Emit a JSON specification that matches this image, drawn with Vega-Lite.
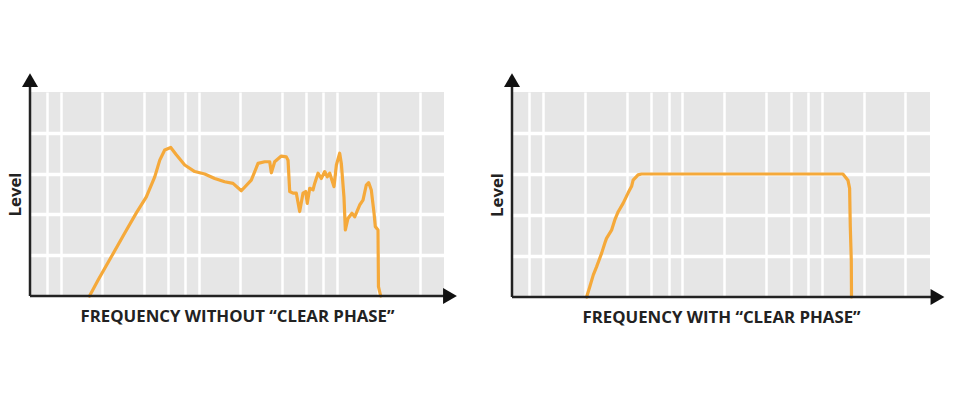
{
  "$schema": "https://vega.github.io/schema/vega-lite/v6.json",
  "background": "white",
  "padding": {"left": 7, "top": 73, "right": 0, "bottom": 0},
  "spacing": 32,
  "config": {
    "view": {"fill": "#e6e6e6", "stroke": null},
    "font": "Open Sans",
    "axis": {
      "titleFont": "Open Sans",
      "titleFontWeight": "bold",
      "titleFontSize": 16.8,
      "titleColor": "#222222",
      "labels": false,
      "ticks": false,
      "domain": false,
      "gridColor": "white",
      "gridOpacity": 1
    }
  },
  "datasets": {
    "without": [
      {"f": 162, "level": 0},
      {"f": 187, "level": 0.39},
      {"f": 233, "level": 0.96},
      {"f": 291, "level": 1.54},
      {"f": 353, "level": 2.03},
      {"f": 418, "level": 2.43},
      {"f": 481, "level": 2.92},
      {"f": 523, "level": 3.33},
      {"f": 568, "level": 3.58},
      {"f": 628, "level": 3.64},
      {"f": 689, "level": 3.46},
      {"f": 793, "level": 3.21},
      {"f": 937, "level": 3.05},
      {"f": 1107, "level": 2.99},
      {"f": 1308, "level": 2.88},
      {"f": 1545, "level": 2.8},
      {"f": 1775, "level": 2.76},
      {"f": 2039, "level": 2.58},
      {"f": 2408, "level": 2.84},
      {"f": 2695, "level": 3.25},
      {"f": 3012, "level": 3.29},
      {"f": 3274, "level": 3.29},
      {"f": 3366, "level": 3.02},
      {"f": 3558, "level": 3.29},
      {"f": 3973, "level": 3.43},
      {"f": 4320, "level": 3.41},
      {"f": 4446, "level": 3.33},
      {"f": 4572, "level": 2.56},
      {"f": 4830, "level": 2.52},
      {"f": 5106, "level": 2.52},
      {"f": 5400, "level": 2.07},
      {"f": 5706, "level": 2.52},
      {"f": 5970, "level": 2.56},
      {"f": 6126, "level": 2.27},
      {"f": 6384, "level": 2.64},
      {"f": 6744, "level": 2.6},
      {"f": 6936, "level": 2.76},
      {"f": 7332, "level": 3.01},
      {"f": 7746, "level": 2.88},
      {"f": 8202, "level": 3.05},
      {"f": 8556, "level": 2.92},
      {"f": 8916, "level": 3.01},
      {"f": 9576, "level": 2.68},
      {"f": 9960, "level": 3.21},
      {"f": 10524, "level": 3.5},
      {"f": 10818, "level": 3.25},
      {"f": 11304, "level": 2.43},
      {"f": 11568, "level": 1.62},
      {"f": 12084, "level": 1.9},
      {"f": 12918, "level": 2.03},
      {"f": 13524, "level": 1.94},
      {"f": 14694, "level": 2.23},
      {"f": 15528, "level": 2.35},
      {"f": 16410, "level": 2.72},
      {"f": 17064, "level": 2.78},
      {"f": 17832, "level": 2.6},
      {"f": 18672, "level": 2.03},
      {"f": 19074, "level": 1.7},
      {"f": 19956, "level": 1.62},
      {"f": 20100, "level": 0.23},
      {"f": 20850, "level": 0}
    ],
    "with": [
      {"f": 206, "level": 0},
      {"f": 217, "level": 0.25},
      {"f": 230, "level": 0.54},
      {"f": 243, "level": 0.74},
      {"f": 264, "level": 1.07},
      {"f": 278, "level": 1.31},
      {"f": 286, "level": 1.43},
      {"f": 311, "level": 1.63},
      {"f": 328, "level": 1.88},
      {"f": 347, "level": 2.08},
      {"f": 377, "level": 2.29},
      {"f": 409, "level": 2.54},
      {"f": 433, "level": 2.7},
      {"f": 444, "level": 2.85},
      {"f": 482, "level": 2.98},
      {"f": 510, "level": 3},
      {"f": 14224, "level": 3},
      {"f": 15456, "level": 2.85},
      {"f": 15894, "level": 2.65},
      {"f": 16074, "level": 1.71},
      {"f": 16338, "level": 0.9},
      {"f": 16400, "level": 0}
    ],
    "one": [{}]
  },
  "hconcat": [
    {
      "width": 414,
      "height": 204,
      "layer": [
        {
          "data": {"name": "without"},
          "mark": {"type": "line", "color": "#f5a93a", "strokeWidth": 3.2, "strokeJoin": "round", "strokeCap": "round"},
          "encoding": {
            "x": {
              "field": "f", "type": "quantitative",
              "scale": {"type": "log", "domain": [60, 60000], "nice": false},
              "axis": {"title": "FREQUENCY WITHOUT “CLEAR PHASE”", "titlePadding": 12, "gridWidth": 2.5,
                "values": [80, 100, 200, 400, 600, 800, 1000, 2000, 4000, 6000, 8000, 10000, 20000, 40000]}
            },
            "y": {
              "field": "level", "type": "quantitative",
              "scale": {"domain": [0, 5], "nice": false, "zero": true},
              "axis": {"title": "Level", "titlePadding": 6, "gridWidth": 3.5, "values": [1, 2, 3, 4]}
            }
          }
        },
        {
          "data": {"name": "one"},
          "mark": {"type": "rule", "color": "#222222", "strokeWidth": 2.5},
          "encoding": {"x": {"datum": 60}, "y": {"datum": 0}, "y2": {"datum": 5.2}}
        },
        {
          "data": {"name": "one"},
          "mark": {"type": "rule", "color": "#222222", "strokeWidth": 2.5},
          "encoding": {"y": {"datum": 0}, "x": {"datum": 60}, "x2": {"datum": 64000}}
        },
        {
          "data": {"name": "one"},
          "mark": {"type": "point", "shape": "triangle-up", "size": 256, "filled": true, "color": "#111111", "opacity": 1},
          "encoding": {"x": {"datum": 60}, "y": {"datum": 5.29}}
        },
        {
          "data": {"name": "one"},
          "mark": {"type": "point", "shape": "triangle-right", "size": 256, "filled": true, "color": "#111111", "opacity": 1},
          "encoding": {"x": {"datum": 66300}, "y": {"datum": 0}}
        }
      ]
    },
    {
      "width": 418,
      "height": 205,
      "layer": [
        {
          "data": {"name": "with"},
          "mark": {"type": "line", "color": "#f5a93a", "strokeWidth": 3.2, "strokeJoin": "round", "strokeCap": "round"},
          "encoding": {
            "x": {
              "field": "f", "type": "quantitative",
              "scale": {"type": "log", "domain": [60, 60000], "nice": false},
              "axis": {"title": "FREQUENCY WITH “CLEAR PHASE”", "titlePadding": 12, "gridWidth": 2.5,
                "values": [80, 100, 200, 400, 600, 800, 1000, 2000, 4000, 6000, 8000, 10000, 20000, 40000]}
            },
            "y": {
              "field": "level", "type": "quantitative",
              "scale": {"domain": [0, 5], "nice": false, "zero": true},
              "axis": {"title": "Level", "titlePadding": 6, "gridWidth": 3.5, "values": [1, 2, 3, 4]}
            }
          }
        },
        {
          "data": {"name": "one"},
          "mark": {"type": "rule", "color": "#222222", "strokeWidth": 2.5},
          "encoding": {"x": {"datum": 60}, "y": {"datum": 0}, "y2": {"datum": 5.2}}
        },
        {
          "data": {"name": "one"},
          "mark": {"type": "rule", "color": "#222222", "strokeWidth": 2.5},
          "encoding": {"y": {"datum": 0}, "x": {"datum": 60}, "x2": {"datum": 64000}}
        },
        {
          "data": {"name": "one"},
          "mark": {"type": "point", "shape": "triangle-up", "size": 256, "filled": true, "color": "#111111", "opacity": 1},
          "encoding": {"x": {"datum": 60}, "y": {"datum": 5.29}}
        },
        {
          "data": {"name": "one"},
          "mark": {"type": "point", "shape": "triangle-right", "size": 256, "filled": true, "color": "#111111", "opacity": 1},
          "encoding": {"x": {"datum": 67900}, "y": {"datum": 0}}
        }
      ]
    }
  ]
}
